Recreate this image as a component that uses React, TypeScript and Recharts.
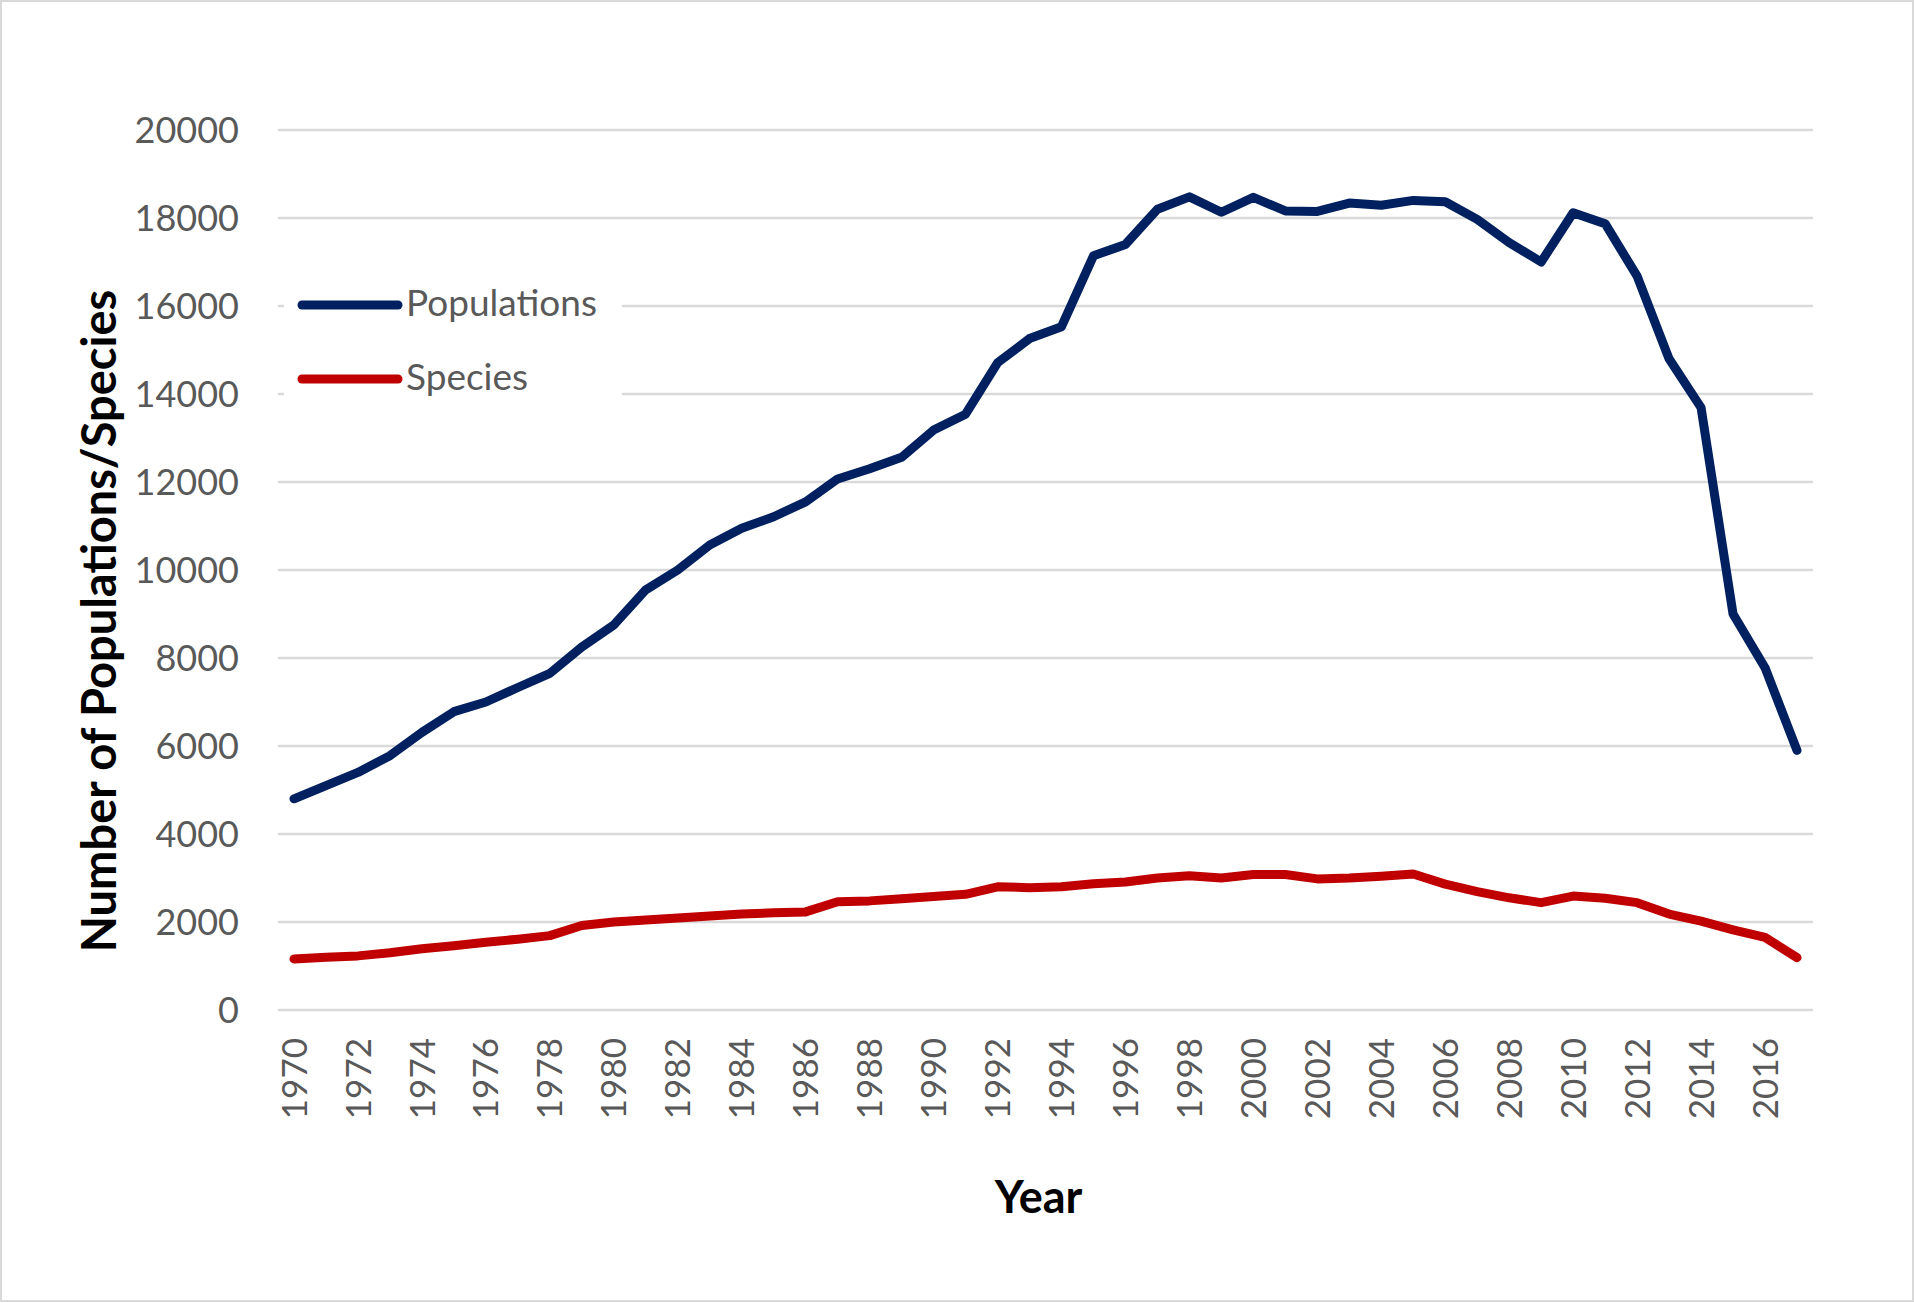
import React from 'react';
import { LineChart, Line, XAxis, YAxis, CartesianGrid, Legend } from 'recharts';

const years: string[] = [
  '1970', '1971', '1972', '1973', '1974', '1975', '1976', '1977', '1978', '1979',
  '1980', '1981', '1982', '1983', '1984', '1985', '1986', '1987', '1988', '1989',
  '1990', '1991', '1992', '1993', '1994', '1995', '1996', '1997', '1998', '1999',
  '2000', '2001', '2002', '2003', '2004', '2005', '2006', '2007', '2008', '2009',
  '2010', '2011', '2012', '2013', '2014', '2015', '2016', '2017',
];

const populations: number[] = [
  4800, 5100, 5400, 5780, 6310, 6780, 7000, 7330, 7650, 8250,
  8750, 9550, 10000, 10570, 10950, 11210, 11550, 12070, 12300, 12560,
  13180, 13540, 14710, 15260, 15530, 17140, 17400, 18200, 18480, 18130,
  18470, 18160, 18150, 18340, 18290, 18400, 18370, 17970, 17440, 17000,
  18120, 17870, 16680, 14800, 13690, 9000, 7780, 5900,
];

const species: number[] = [
  1160, 1200, 1230, 1300, 1390, 1460, 1540, 1610, 1690, 1920,
  2000, 2045, 2090, 2135, 2180, 2210, 2230, 2460, 2480, 2530,
  2580, 2630, 2800, 2780, 2800, 2870, 2910, 3000, 3050, 3000,
  3080, 3080, 2980, 3000, 3040, 3090, 2860, 2690, 2550, 2440,
  2590, 2540, 2440, 2180, 2020, 1820, 1650, 1190,
];

const yTicks: number[] = [0, 2000, 4000, 6000, 8000, 10000, 12000, 14000, 16000, 18000, 20000];

const data = years.map((year, i) => ({
  year,
  Populations: populations[i],
  Species: species[i],
}));

const FONT = 'Lato, "Open Sans", sans-serif';
const TICK_COLOR = '#595959';

const XTick = (props: any) => {
  const { x, y, payload } = props;
  return (
    <text
      x={x}
      y={y}
      transform={`rotate(-90, ${x}, ${y})`}
      textAnchor="end"
      dy="0.36em"
      fontFamily={FONT}
      fontSize={35}
      fill={TICK_COLOR}
    >
      {payload.value}
    </text>
  );
};

const YTitle = (props: any) => {
  const vb = props.viewBox || { x: 0, y: 0, width: 0, height: 0 };
  const cx = vb.x + 100;
  const cy = vb.y + vb.height / 2 + 51;
  return (
    <text
      x={cx}
      y={cy}
      transform={`rotate(-90, ${cx}, ${cy})`}
      textAnchor="middle"
      dy="0.35em"
      fontFamily={FONT}
      fontWeight={700}
      fontSize={47}
      fill="#000000"
    >
      Number of Populations/Species
    </text>
  );
};

const XTitle = (props: any) => {
  const vb = props.viewBox || { x: 0, y: 0, width: 0, height: 0 };
  return (
    <text
      x={vb.x + vb.width / 2 - 7}
      y={vb.y + 203}
      textAnchor="middle"
      fontFamily={FONT}
      fontWeight={700}
      fontSize={45}
      fill="#000000"
    >
      Year
    </text>
  );
};

const LegendContent = (props: any) => {
  const payload = props.payload || [];
  const rows = [46, 120];
  return (
    <svg width={338} height={150} style={{ display: 'block' }}>
      {payload.map((entry: any, i: number) => (
        <g key={entry.value}>
          <line
            x1={18}
            x2={114}
            y1={rows[i] - 11}
            y2={rows[i] - 11}
            stroke={entry.color}
            strokeWidth={9}
            strokeLinecap="round"
          />
          <text x={122} y={rows[i]} fontFamily={FONT} fontSize={37} fill={TICK_COLOR}>
            {entry.value}
          </text>
        </g>
      ))}
    </svg>
  );
};

export default function App() {
  return (
    <div
      style={{
        position: 'absolute',
        left: 0,
        top: 0,
        width: 1914,
        height: 1303,
        background: '#ffffff',
      }}
    >
      <LineChart
        width={1914}
        height={1303}
        data={data}
        margin={{ top: 130, right: 101, bottom: 0, left: 0 }}
      >
        <CartesianGrid vertical={false} stroke="#D9D9D9" strokeWidth={2.5} />
        <XAxis
          dataKey="year"
          type="category"
          interval={1}
          height={293}
          padding={{ left: 16, right: 16 }}
          axisLine={false}
          tickLine={false}
          tickSize={0}
          tickMargin={28}
          tick={<XTick />}
          label={{ content: <XTitle /> }}
        />
        <YAxis
          width={278}
          domain={[0, 20000]}
          ticks={yTicks}
          interval={0}
          axisLine={false}
          tickLine={false}
          tickSize={0}
          tickMargin={39}
          tick={{ fontFamily: FONT, fontSize: 36, fill: TICK_COLOR }}
          label={{ content: <YTitle /> }}
        />
        <Legend
          layout="vertical"
          align="center"
          verticalAlign="middle"
          content={<LegendContent />}
          wrapperStyle={{
            left: 284,
            top: 270,
            width: 338,
            height: 150,
            background: '#ffffff',
          }}
        />
        <Line
          type="linear"
          dataKey="Populations"
          stroke="#002060"
          strokeWidth={9}
          strokeLinecap="round"
          strokeLinejoin="round"
          dot={false}
          activeDot={false}
          isAnimationActive={false}
        />
        <Line
          type="linear"
          dataKey="Species"
          stroke="#C00000"
          strokeWidth={9}
          strokeLinecap="round"
          strokeLinejoin="round"
          dot={false}
          activeDot={false}
          isAnimationActive={false}
        />
      </LineChart>
      <div
        style={{
          position: 'absolute',
          left: 0,
          top: 0,
          width: 1914,
          height: 1302,
          boxSizing: 'border-box',
          border: '2px solid #D9D9D9',
          pointerEvents: 'none',
        }}
      />
    </div>
  );
}
